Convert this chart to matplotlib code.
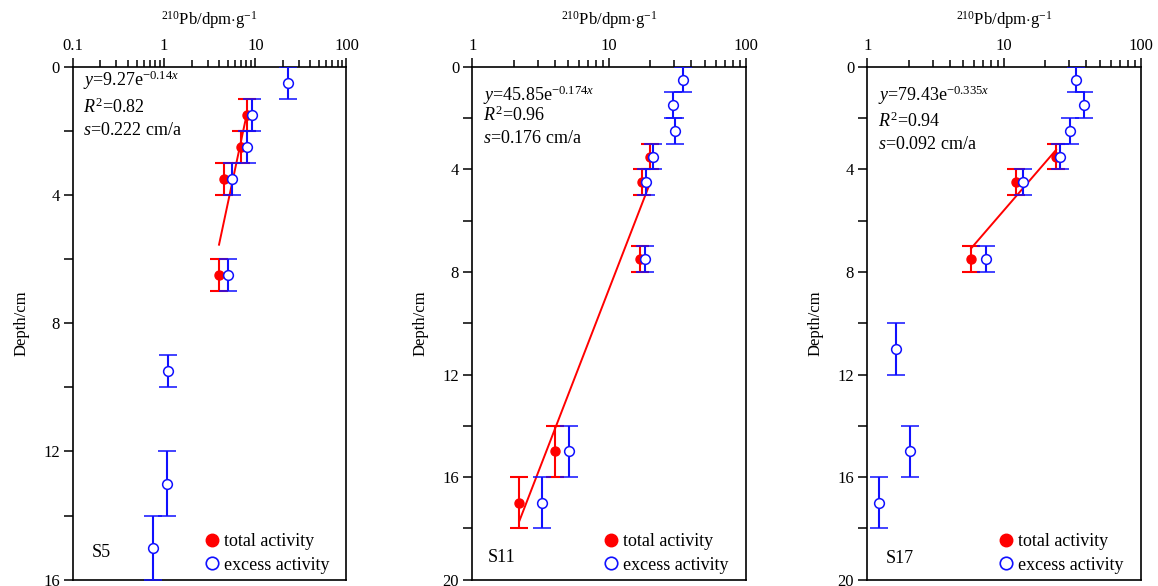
import matplotlib.pyplot as plt
from matplotlib.lines import Line2D

plt.rcParams['font.family'] = ['Liberation Serif', 'DejaVu Serif']
plt.rcParams['mathtext.fontset'] = 'custom'
plt.rcParams['mathtext.rm'] = 'Liberation Serif'
plt.rcParams['mathtext.it'] = 'Liberation Serif:italic'

# ---- data ----
# S5
s5_tot_x = [8.1, 6.9, 4.5, 4.0]
s5_tot_d = [1.5, 2.5, 3.5, 6.5]
s5_tot_e = [0.5, 0.5, 0.5, 0.5]
s5_exc_x = [22.8, 9.3, 8.1, 5.6, 5.0, 1.1, 1.07, 0.76]
s5_exc_d = [0.5, 1.5, 2.5, 3.5, 6.5, 9.5, 13, 15]
s5_exc_e = [0.5, 0.5, 0.5, 0.5, 0.5, 0.5, 1, 1]
s5_fit_x = [8.1, 4.0]
s5_fit_d = [1.45, 5.55]

# S11
s11_tot_x = [20.0, 17.5, 16.9, 4.05, 2.21]
s11_tot_d = [3.5, 4.5, 7.5, 15, 17]
s11_tot_e = [0.5, 0.5, 0.5, 1, 1]
s11_exc_x = [34.8, 29.2, 30.5, 21.1, 18.5, 18.3, 5.07, 3.23]
s11_exc_d = [0.5, 1.5, 2.5, 3.5, 4.5, 7.5, 15, 17]
s11_exc_e = [0.5, 0.5, 0.5, 0.5, 0.5, 0.5, 1, 1]
s11_fit_x = [19.7, 2.21]
s11_fit_d = [4.6, 17.7]

# S17
s17_tot_x = [24.0, 12.2, 5.74]
s17_tot_d = [3.5, 4.5, 7.5]
s17_tot_e = [0.5, 0.5, 0.5]
s17_exc_x = [33.4, 38.1, 30.5, 25.7, 13.8, 7.35, 1.63, 2.05, 1.22]
s17_exc_d = [0.5, 1.5, 2.5, 3.5, 4.5, 7.5, 11, 15, 17]
s17_exc_e = [0.5, 0.5, 0.5, 0.5, 0.5, 0.5, 1, 1, 1]
s17_fit_x = [24.0, 5.74]
s17_fit_d = [3.24, 7.08]

panels = [
    dict(name='S5', tot=(s5_tot_x, s5_tot_d, s5_tot_e), exc=(s5_exc_x, s5_exc_d, s5_exc_e),
         fit=(s5_fit_x, s5_fit_d), xlim=(0.1, 100), ymax=16, namexy=(0.07, 0.054),
         eq=[r'$\mathit{y}$=9.27e$^{\mathrm{-0.14}\mathit{x}}$', r'$\mathit{R}^{2}$=0.82',
             r'$\mathit{s}$=0.222 cm/a'], eqy=[0.973, 0.920, 0.876]),
    dict(name='S11', tot=(s11_tot_x, s11_tot_d, s11_tot_e), exc=(s11_exc_x, s11_exc_d, s11_exc_e),
         fit=(s11_fit_x, s11_fit_d), xlim=(1, 100), ymax=20, namexy=(0.057, 0.043),
         eq=[r'$\mathit{y}$=45.85e$^{\mathrm{-0.174}\mathit{x}}$', r'$\mathit{R}^{2}$=0.96',
             r'$\mathit{s}$=0.176 cm/a'], eqy=[0.945, 0.906, 0.861]),
    dict(name='S17', tot=(s17_tot_x, s17_tot_d, s17_tot_e), exc=(s17_exc_x, s17_exc_d, s17_exc_e),
         fit=(s17_fit_x, s17_fit_d), xlim=(1, 100), ymax=20, namexy=(0.068, 0.041),
         eq=[r'$\mathit{y}$=79.43e$^{\mathrm{-0.335}\mathit{x}}$', r'$\mathit{R}^{2}$=0.94',
             r'$\mathit{s}$=0.092 cm/a'], eqy=[0.945, 0.893, 0.848]),
]

fig = plt.figure(figsize=(11.58, 5.86), dpi=100)
lefts = [0.0630, 0.4079, 0.7490]
red = '#ff0000'
blue = '#1010ff'

for p, left in zip(panels, lefts):
    ax = fig.add_axes([left, 0.0107, 0.2362, 0.8754])
    ax.set_xscale('log')

    tx, td, te = p['tot']
    ax.errorbar(tx, td, yerr=te, fmt='o', color=red, ms=6.5, elinewidth=1.5,
                capsize=6.5, capthick=1.5, zorder=2)
    fx, fd = p['fit']
    ax.plot(fx, fd, color=red, lw=1.4, zorder=3)
    ex, ed, ee = p['exc']
    ax.errorbar(ex, ed, yerr=ee, fmt='o', mfc='white', mec=blue, color=blue, ms=7,
                mew=1.1, elinewidth=1.5, capsize=6.5, capthick=1.5, zorder=4)

    ax.set_xlim(*p['xlim'])
    ax.set_ylim(p['ymax'], 0)
    ax.xaxis.tick_top()
    ax.xaxis.set_label_position('top')
    ticks = [t for t in [0.1, 1, 10, 100] if t >= p['xlim'][0]]
    ax.set_xticks(ticks)
    ax.set_xticklabels(['0.1' if t == 0.1 else str(int(t)) for t in ticks])
    ax.set_yticks(range(0, p['ymax'] + 1, 2))
    ax.set_yticklabels([str(v) if v % 4 == 0 else '' for v in range(0, p['ymax'] + 1, 2)])
    ax.tick_params(axis='both', which='major', direction='out', length=6.5, width=1.1,
                   labelsize=12, pad=3)
    ax.tick_params(axis='x', which='minor', direction='out', length=5, width=1.1)
    for s in ax.spines.values():
        s.set_linewidth(1.2)

    ax.set_xlabel(r'$^{210}$Pb/dpm$\cdot$g$^{-1}$', fontsize=12, labelpad=9)
    ax.set_ylabel('Depth/cm', fontsize=12, labelpad=10)

    for line, yy in zip(p['eq'], p['eqy']):
        ax.text(0.038, yy, line, transform=ax.transAxes, fontsize=13, va='center', ha='left')
    ax.text(p['namexy'][0], p['namexy'][1], p['name'], transform=ax.transAxes,
            fontsize=13, va='center')

    handles = [Line2D([], [], ls='none', marker='o', color=red, ms=9),
               Line2D([], [], ls='none', marker='o', mfc='white', mec=blue, mew=1.2, ms=9)]
    ax.legend(handles, ['total activity', 'excess activity'], loc='lower right',
              bbox_to_anchor=(0.95, 0.005), frameon=False, fontsize=13,
              handlelength=0.8, handletextpad=0.25, labelspacing=0.35,
              borderaxespad=0, borderpad=0.2)

fig.savefig('out.png', dpi=100)
